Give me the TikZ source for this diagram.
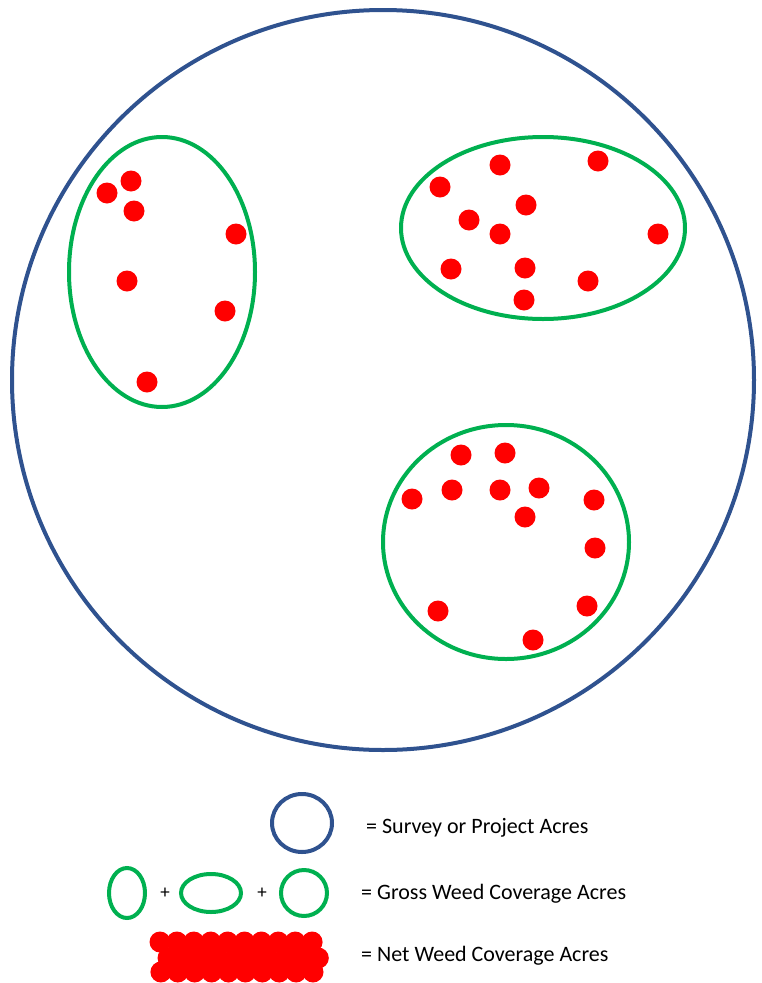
\documentclass[tikz,border=0pt]{standalone}
\usepackage{fontspec}
\setmainfont{Carlito}
\definecolor{survey}{RGB}{47,82,143}
\definecolor{gross}{RGB}{0,176,80}
\definecolor{weed}{RGB}{255,0,0}
\begin{document}
\begin{tikzpicture}[x=1pt,y=-1pt,
  surveyline/.style={draw=survey,line width=4pt},
  grossline/.style={draw=gross,line width=4pt},
  dot/.style={circle,fill=weed,inner sep=0pt,minimum size=21pt},
  blob/.style={circle,fill=weed,inner sep=0pt,minimum size=21pt},
  lbl/.style={anchor=west,font=\fontsize{22}{24}\selectfont,inner sep=0pt}]
\useasboundingbox (0,0) rectangle (761,983);
% survey area
\draw[surveyline] (383,380) ellipse [x radius=371,y radius=370];
% gross patches
\draw[grossline] (162,272) ellipse [x radius=93,y radius=135];
\draw[grossline] (543,228) ellipse [x radius=142,y radius=91];
\draw[grossline] (506,542) ellipse [x radius=123,y radius=117];
% weeds left
\foreach \p [count=\i] in {(107,193),(131,181),(134,211),(236,234),(127,281),(225,311),(147,382)}
  \node[dot] (l\i) at \p {};
% weeds top right
\foreach \p [count=\i] in {(440,187),(500,165),(598,161),(469,220),(526,205),(500,234),(658,234),(451,269),(525,268),(588,281),(524,300)}
  \node[dot] (t\i) at \p {};
% weeds bottom
\foreach \p [count=\i] in {(461,455),(505,453),(412,499),(452,490),(500,490),(539,488),(594,500),(525,517),(595,548),(438,611),(587,606),(533,640)}
  \node[dot] (b\i) at \p {};
% legend
\draw[surveyline] (302,823) ellipse [x radius=30,y radius=29];
\node[lbl] (t1) at (366,828) {= Survey or Project Acres};
\draw[grossline] (127,893) ellipse [x radius=18,y radius=25];
\node (p1) at (165,893) {\fontsize{19}{20}\selectfont +};
\draw[grossline] (211,893) ellipse [x radius=30,y radius=19];
\node (p2) at (262,893) {\fontsize{19}{20}\selectfont +};
\draw[grossline] (304,893) ellipse [x radius=23,y radius=23];
\node[lbl] (t2) at (361,894) {= Gross Weed Coverage Acres};
\foreach \k in {0,...,9}{
  \node[blob] at (160+16.9*\k,942) {};
  \node[blob] at (313-16.9*\k,972) {};
}
\foreach \k in {0,...,9}{
  \node[blob] at (168+16.7*\k,958) {};
}
\node[lbl] (t3) at (361,956) {= Net Weed Coverage Acres};
\end{tikzpicture}
\end{document}
